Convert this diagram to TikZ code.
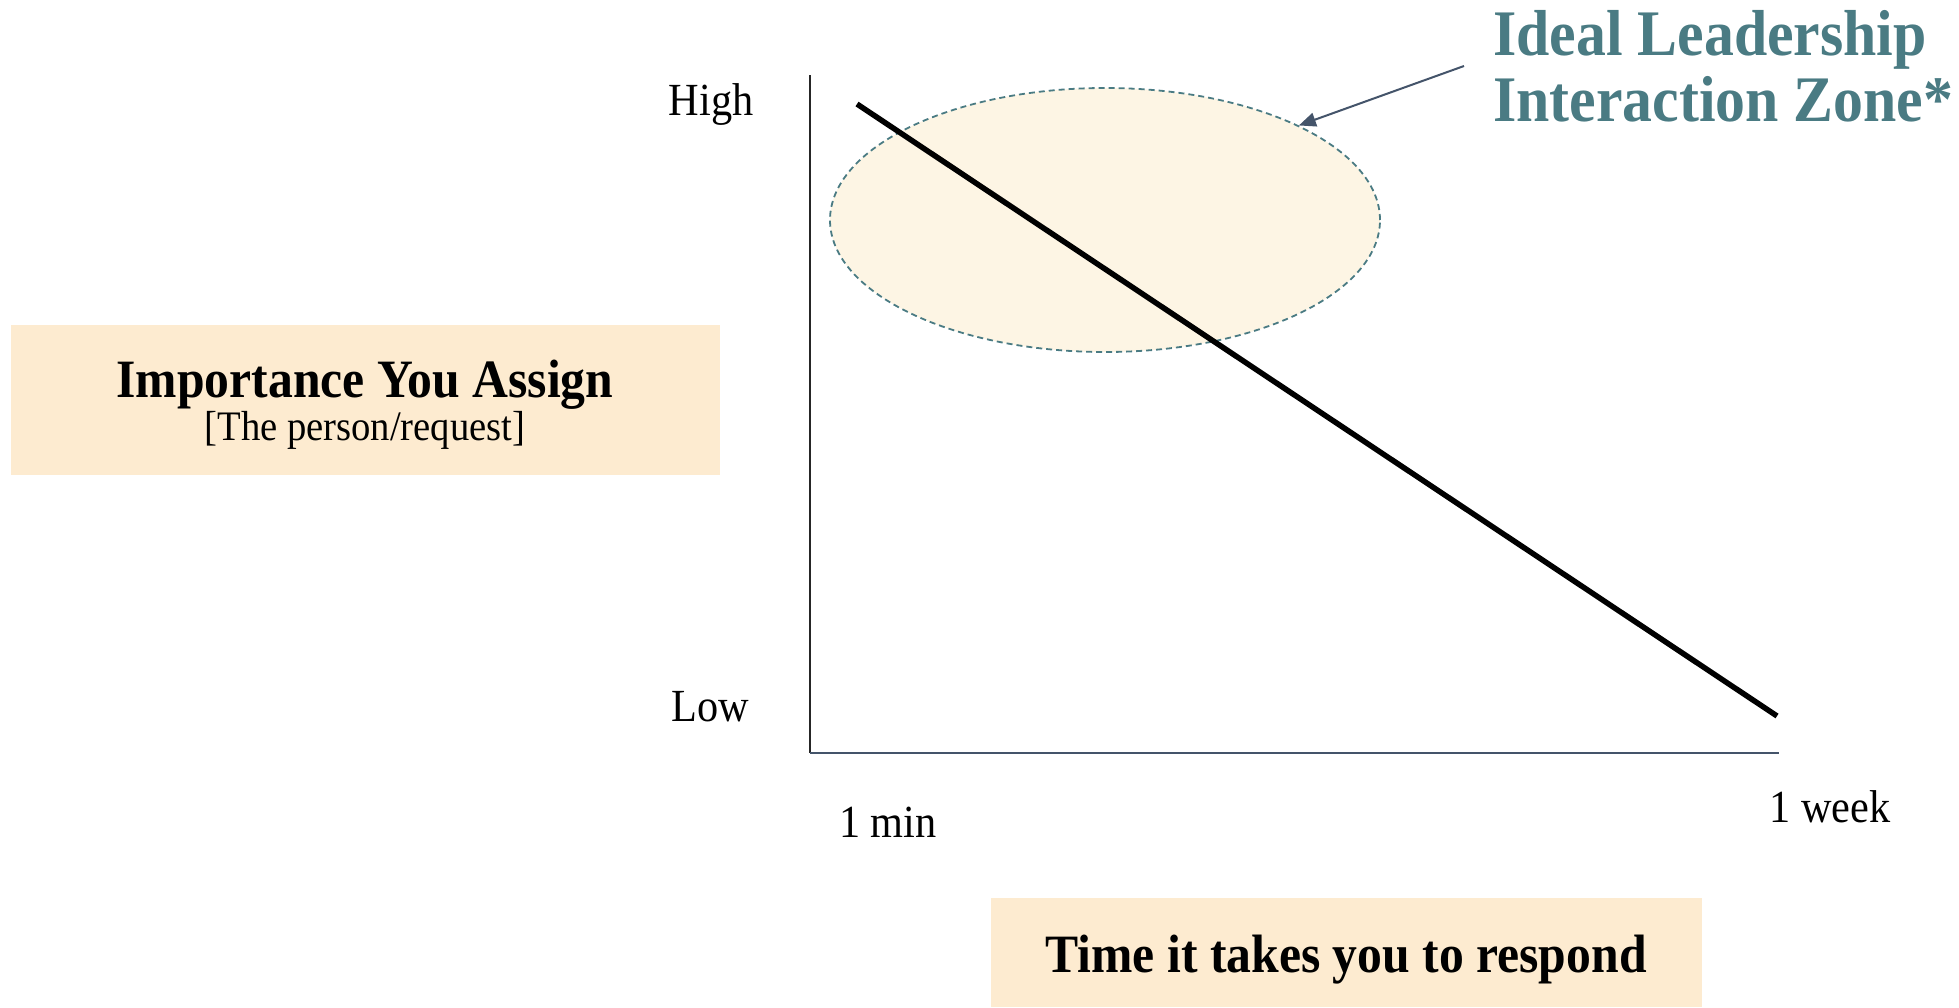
\documentclass[tikz,border=0pt]{standalone}
\usepackage{fontspec}
\setmainfont{Liberation Serif}[FakeStretch=0.92]
\usetikzlibrary{shapes.geometric,arrows.meta}
\definecolor{teal}{HTML}{4A7B83}
\definecolor{slate}{HTML}{44546A}
\definecolor{boxfill}{HTML}{FDEBD0}
\definecolor{zonefill}{HTML}{FDF5E4}
\tikzset{
  labelbox/.style={fill=boxfill, inner sep=0pt, anchor=north west},
  axistext/.style={font=\fontsize{46}{52}\selectfont, anchor=base, inner sep=0pt},
  boldtext/.style={font=\bfseries\fontsize{54}{60}\selectfont, anchor=base, inner sep=0pt},
  titletext/.style={font=\bfseries\fontsize{65}{66}\selectfont, text=teal, anchor=base west, inner sep=0pt},
}
\begin{document}
\begin{tikzpicture}[x=1pt,y=-1pt]
\useasboundingbox (0,0) rectangle (1959,1007);
% boxes
\node[labelbox, minimum width=709pt, minimum height=150pt] (ybox) at (11,325) {};
\node[labelbox, minimum width=711pt, minimum height=109pt] (xbox) at (991,898) {};
% zone
\node[ellipse, draw=teal, dashed, dash pattern=on 6pt off 4pt, line width=1.8pt, fill=zonefill,
      minimum width=550pt, minimum height=264pt, inner sep=0pt] (zone) at (1105,220) {};
% axes
\coordinate (origin) at (810,753);
\coordinate (ytop) at (810,75);
\coordinate (xend) at (1779,753);
\draw[line width=1.5pt, black!85] (ytop) -- (origin);
\draw[line width=2.2pt, slate] (origin) -- (xend);
% trend line
\coordinate (tstart) at (857,104);
\coordinate (tend) at (1777,716);
\draw[line width=5.5pt, black] (tstart) -- (tend);
% arrow
\coordinate (arrowstart) at (1464,66);
\draw[line width=2pt, slate, -{Triangle[length=17pt,width=14pt]}] (arrowstart) -- (zone.26);
% texts
\node[titletext] (title1) at (1493,55) {Ideal Leadership};
\node[titletext] (title2) at (1493,121) {Interaction Zone*};
\node[axistext] (high) at (711,115) {High};
\node[axistext] (low) at (710,721) {Low};
\node[axistext] (min) at (888,837) {1 min};
\node[axistext] (week) at (1830,822) {1 week};
\node[boldtext] (ylab) at (365,397) {Importance You Assign};
\node[axistext, font=\fontsize{42}{48}\selectfont] (ysub) at (365,440) {[The person/request]};
\node[boldtext] (xlab) at (1346,972) {Time it takes you to respond};
\end{tikzpicture}
\end{document}
